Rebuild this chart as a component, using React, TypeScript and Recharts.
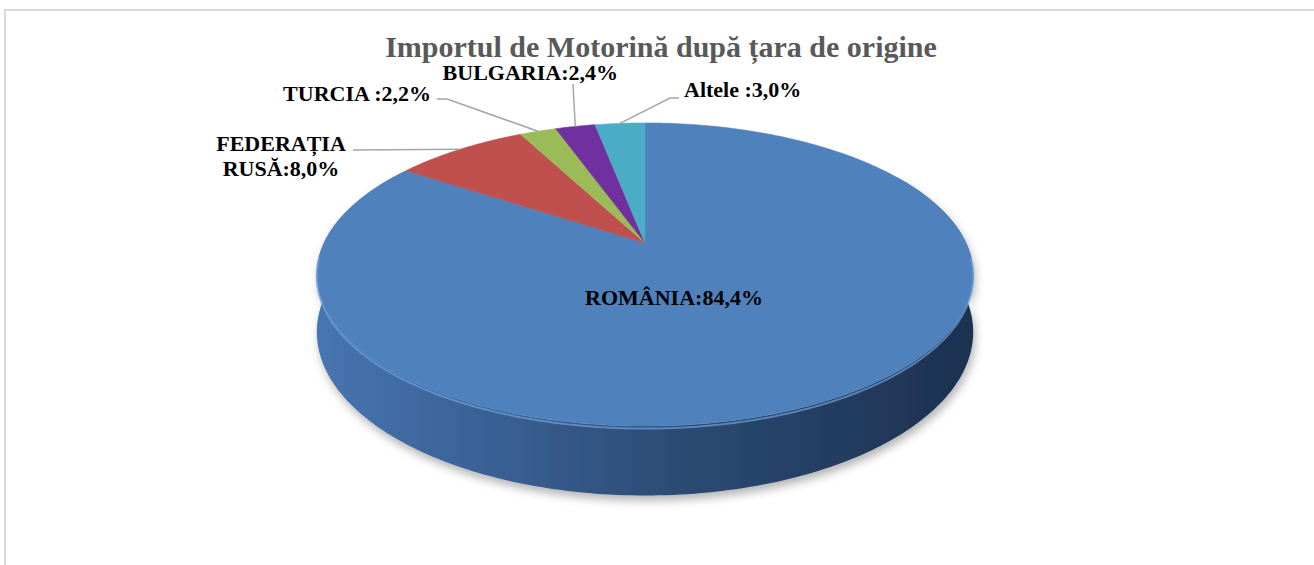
import { Cell, Pie, PieChart } from 'recharts';

const categories = ['ROMÂNIA', 'FEDERAȚIA RUSĂ', 'TURCIA ', 'BULGARIA', 'Altele '];
const shares = [84.4, 8.0, 2.2, 2.4, 3.0];
const topColors = ['#4f81bd', '#c0504d', '#9bbb59', '#7030a0', '#4bacc6'];
const sideColors = ['url(#sideBlue)', '#8c3836', '#6f8a3c', '#4f2072', '#327f94'];

const data = categories.map((name, i) => ({ name, value: shares[i] }));

// perspective of the 3d disc: half axes, tilt factor, extrusion depth
const RX = 321;
const RY = 145;
const K = 0.208;
const DEPTH = 55;

// label placement (as positioned in the original workbook)
const labelLayout = [
  { x: 674, y: 305, anchor: 'middle', leader: [] as number[][] },
  { x: 281, y: 151, anchor: 'middle', leader: [[353, 150]] },
  { x: 431, y: 101, anchor: 'end', leader: [[447, 99], [437, 99]] },
  { x: 618, y: 80, anchor: 'end', leader: [[573, 84]] },
  { x: 684, y: 97, anchor: 'start', leader: [[670, 98], [679, 98]] },
];

const fmt = (v: number) => v.toFixed(1).replace('.', ',') + '%';

// theta: degrees clockwise from 12 o'clock
function project(cx: number, cy: number, theta: number, drop = 0): [number, number] {
  const t = (theta * Math.PI) / 180;
  const u = Math.sin(t);
  const v = -Math.cos(t);
  const d = 1 - K * v;
  return [cx + (RX * u) / d, cy + (RY * v + drop) / d];
}

function arcPoints(cx: number, cy: number, t0: number, t1: number, drop = 0) {
  const n = Math.max(2, Math.ceil(Math.abs(t1 - t0)));
  const pts: [number, number][] = [];
  for (let i = 0; i <= n; i++) pts.push(project(cx, cy, t0 + ((t1 - t0) * i) / n, drop));
  return pts;
}

const toPath = (pts: [number, number][]) => pts.map((p) => `${p[0].toFixed(2)},${p[1].toFixed(2)}`).join('L');

const TopFace = (props: any) => {
  const { cx, cy, startAngle, endAngle, fill } = props;
  const t0 = 90 - startAngle;
  const t1 = 90 - endAngle;
  const pts = arcPoints(cx, cy, t0, t1);
  const h0 = Math.max(t0, 95);
  const h1 = Math.min(t1, 265);
  return (
    <g>
      <path d={`M${cx},${cy}L${toPath(pts)}Z`} fill={fill} stroke={fill} strokeWidth={0.6} />
      {h1 > h0 && (
        <path
          d={`M${toPath(arcPoints(cx, cy, h0, h1, 2))}`}
          fill="none"
          stroke="#6f9fda"
          strokeWidth={2}
          strokeOpacity={0.7}
        />
      )}
    </g>
  );
};

const SideFace = (props: any) => {
  const { cx, cy, startAngle, endAngle, name } = props;
  const idx = categories.indexOf(name ?? props.payload?.name);
  const t0 = Math.max(90 - startAngle, 60);
  const t1 = Math.min(90 - endAngle, 300);
  if (t1 <= t0) return <g />;
  const top = arcPoints(cx, cy, t0, t1);
  const bottom = arcPoints(cx, cy, t0, t1, DEPTH).reverse();
  return (
    <path
      d={`M${toPath(top)}L${toPath(bottom)}Z`}
      fill={sideColors[idx] ?? '#333'}
      filter="url(#pieShadow)"
    />
  );
};

const renderLabel = (props: any) => {
  const { cx, cy, midAngle } = props;
  const name: string = props.name ?? props.payload?.name;
  const idx = categories.indexOf(name);
  const lay = labelLayout[idx];
  if (!lay) return null;
  const text = `${name.trimEnd() === name ? name : name}:${fmt(shares[idx])}`;
  const lines = idx === 1 ? [name.split(' ')[0], `${name.split(' ')[1]}:${fmt(shares[idx])}`] : [text];
  const start = project(cx, cy, 90 - midAngle);
  const leader = lay.leader.length ? [start, ...lay.leader] : [];
  return (
    <g>
      {leader.length > 0 && (
        <polyline
          points={leader.map((p) => p.join(',')).join(' ')}
          fill="none"
          stroke="#a6a6a6"
          strokeWidth={1.5}
        />
      )}
      <text
        x={lay.x}
        y={lay.y}
        textAnchor={lay.anchor as any}
        fontFamily="'Liberation Serif', 'Times New Roman', serif"
        fontWeight="bold"
        fontSize={22}
        fill="#000"
      >
        {lines.map((l, i) => (
          <tspan key={i} x={lay.x} dy={i === 0 ? 0 : 25}>
            {l}
          </tspan>
        ))}
      </text>
    </g>
  );
};

export default function App() {
  return (
    <div
      style={{
        position: 'fixed',
        left: 0,
        top: 0,
        width: 1314,
        height: 565,
        overflow: 'hidden',
        background: '#fff',
      }}
    >
      <div
        style={{
          position: 'absolute',
          left: 4,
          top: 9,
          width: 1400,
          height: 700,
          border: '2px solid #d9d9d9',
          boxSizing: 'border-box',
        }}
      />
      <svg width={1314} height={565} style={{ position: 'absolute', left: 0, top: 0 }}>
        <defs>
          <linearGradient id="sideBlue" gradientUnits="userSpaceOnUse" x1={318} y1={0} x2={972} y2={0}>
            <stop offset="0%" stopColor="#4775b0" />
            <stop offset="25%" stopColor="#3a6296" />
            <stop offset="55%" stopColor="#2c4b74" />
            <stop offset="100%" stopColor="#1d3150" />
          </linearGradient>
          <filter id="pieShadow" x="-20%" y="-20%" width="140%" height="170%">
            <feDropShadow dx={2} dy={5} stdDeviation={5} floodColor="#000" floodOpacity={0.3} />
          </filter>
        </defs>
        <text
          x={661}
          y={57}
          textAnchor="middle"
          fontFamily="'Liberation Serif', 'Times New Roman', serif"
          fontWeight="bold"
          fontSize={30}
          fill="#595959"
        >
          Importul de Motorină după țara de origine
        </text>
      </svg>
      <div style={{ position: 'absolute', left: 0, top: 0 }}>
        <PieChart width={1314} height={565} margin={{ top: 0, right: 0, bottom: 0, left: 0 }}>
          <Pie
            data={data}
            dataKey="value"
            nameKey="name"
            cx={645}
            cy={243}
            outerRadius={RX}
            startAngle={90}
            endAngle={-270}
            stroke="none"
            isAnimationActive={false}
            shape={SideFace}
            activeShape={SideFace}
            inactiveShape={SideFace}
            label={false}
            labelLine={false}
          >
            {data.map((d, i) => (
              <Cell key={d.name} fill={topColors[i]} />
            ))}
          </Pie>
          <Pie
            data={data}
            dataKey="value"
            nameKey="name"
            cx={645}
            cy={243}
            outerRadius={RX}
            startAngle={90}
            endAngle={-270}
            stroke="none"
            isAnimationActive={false}
            shape={TopFace}
            activeShape={TopFace}
            inactiveShape={TopFace}
            label={renderLabel}
            labelLine={false}
          >
            {data.map((d, i) => (
              <Cell key={d.name} fill={topColors[i]} />
            ))}
          </Pie>
        </PieChart>
      </div>
    </div>
  );
}
